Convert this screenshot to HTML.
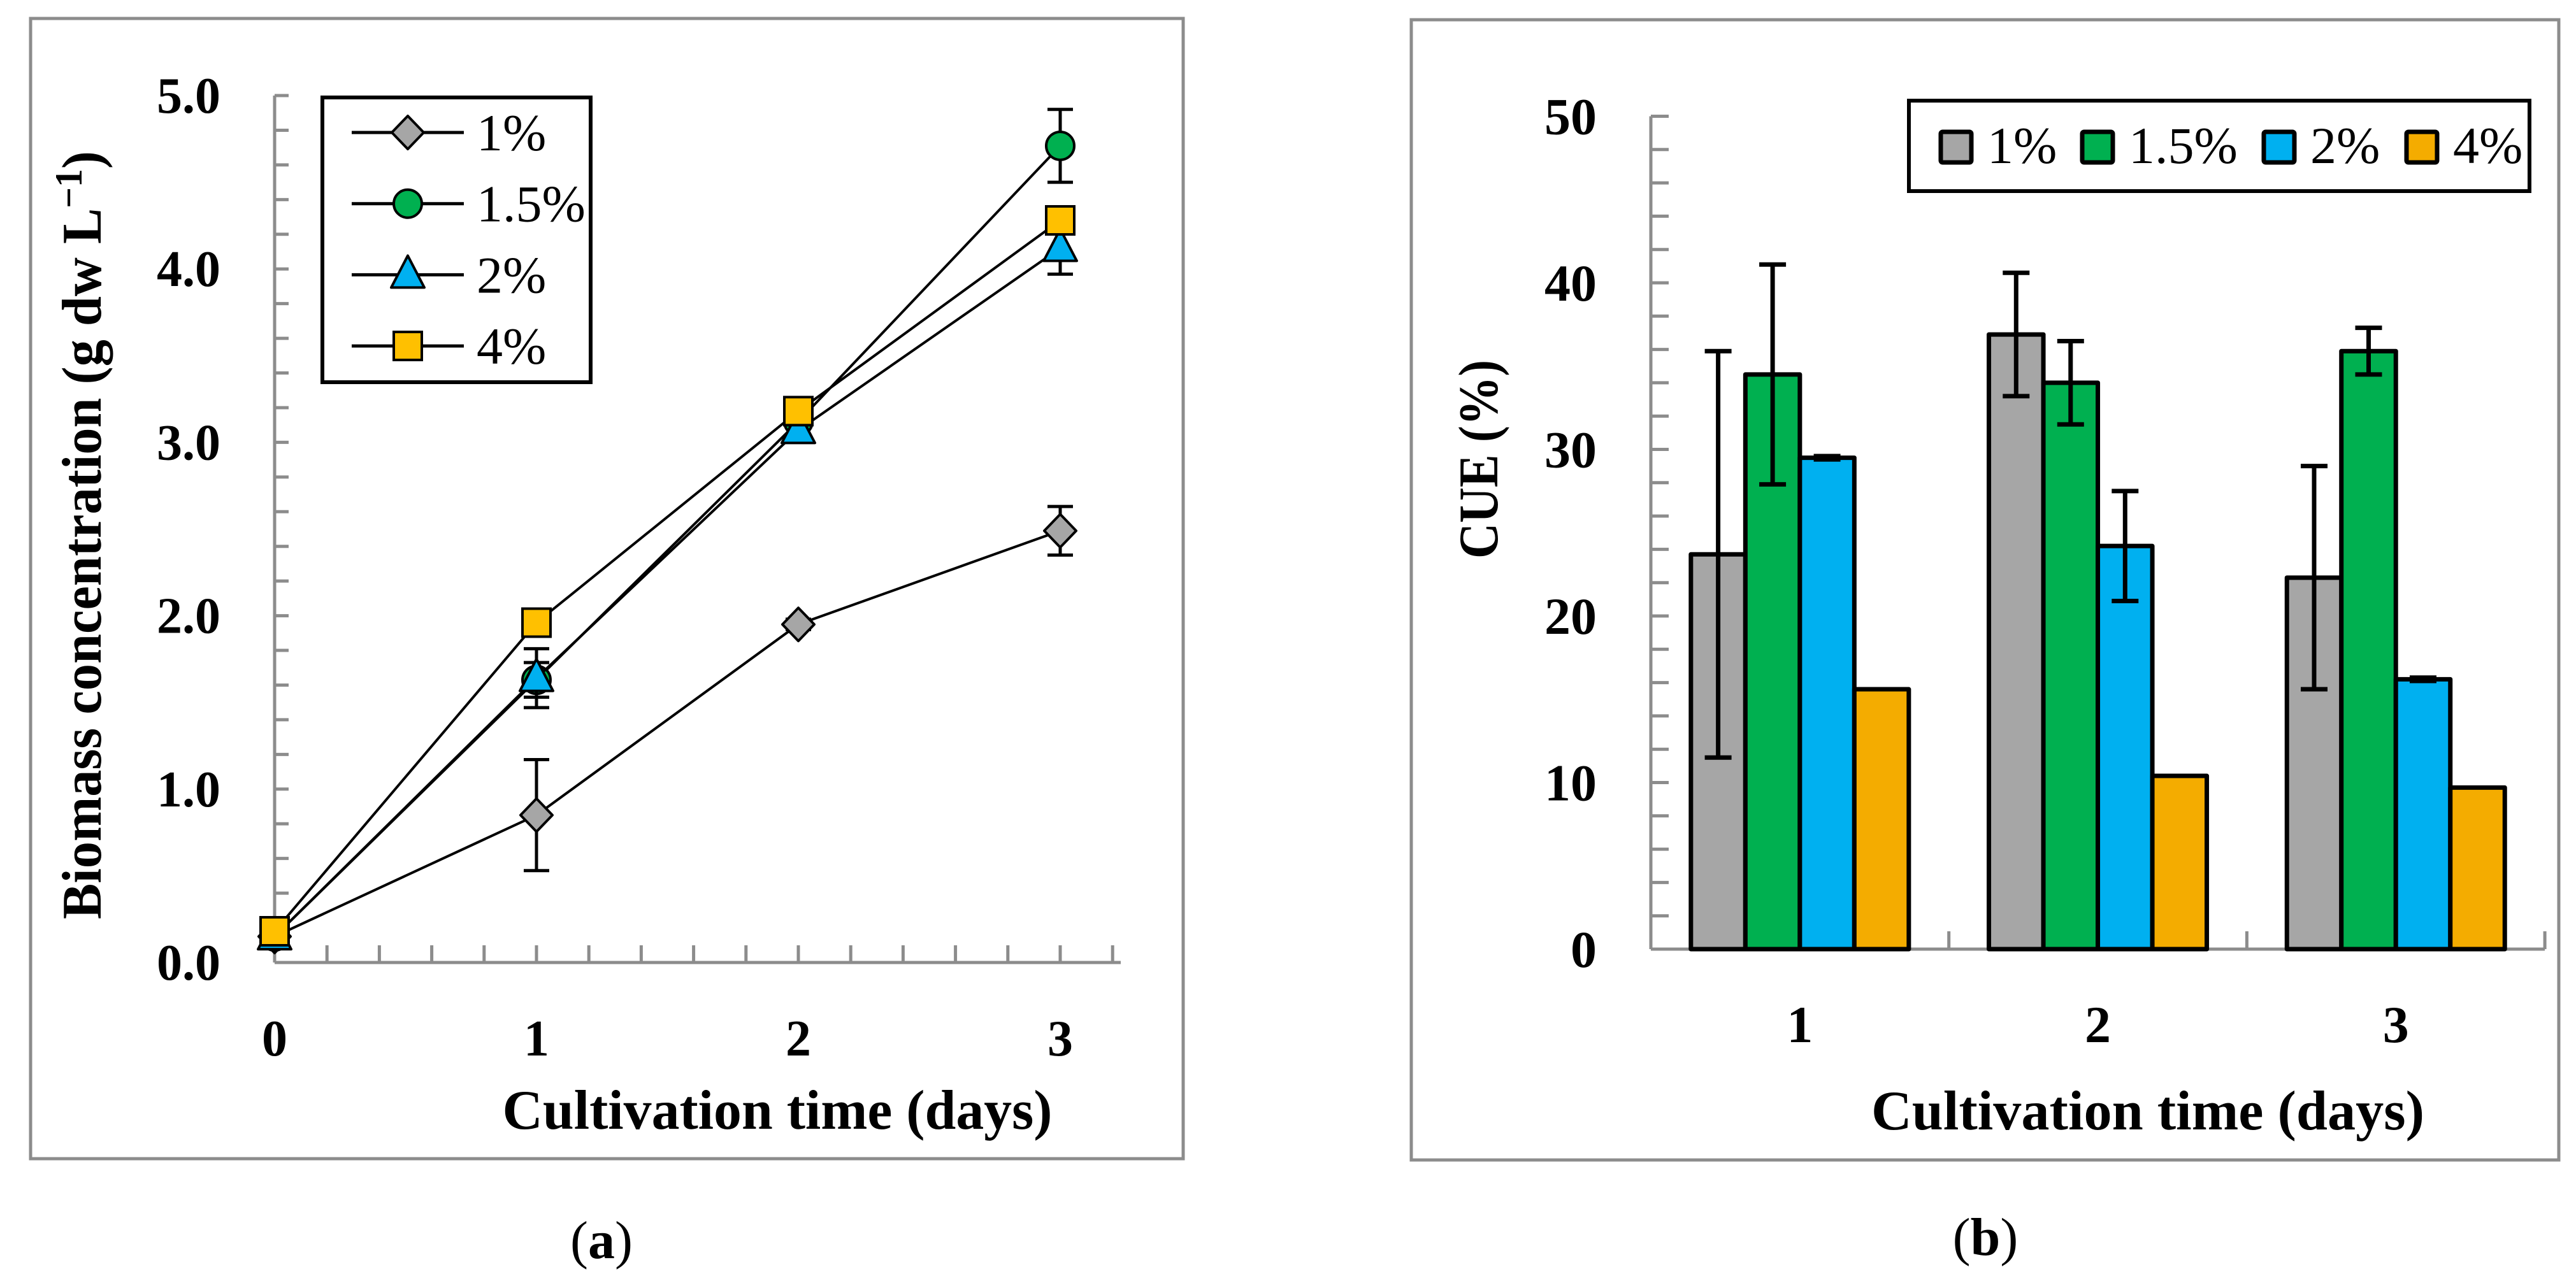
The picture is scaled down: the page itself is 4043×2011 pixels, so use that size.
<!DOCTYPE html>
<html><head><meta charset="utf-8"><style>
html,body{margin:0;padding:0;background:#fff}
svg{display:block}
text{font-family:"Liberation Serif",serif;fill:#000}
</style></head><body>
<svg id="fig" width="4043" height="2011" viewBox="0 0 4043 2011" xmlns="http://www.w3.org/2000/svg">
<g id="A"></g>
<g id="B"></g>
</svg>
<script>
// ---------- Panel (a) data ----------
const daysA = [0, 1, 2, 3];
const yTicksA = ["0.0","1.0","2.0","3.0","4.0","5.0"];
const seriesNamesA = ["1%", "1.5%", "2%", "4%"];
const s1 = [0.15, 0.85, 1.95, 2.49];
const s1Err = [0, 0.32, 0.03, 0.14];
const s15 = [0.15, 1.63, 3.12, 4.71];
const s15Err = [0, 0.1, 0.03, 0.21];
const s2 = [0.15, 1.64, 3.07, 4.12];
const s2Err = [0, 0.17, 0.03, 0.15];
const s4 = [0.18, 1.96, 3.18, 4.28];
const s4Err = [0, 0, 0, 0];
// ---------- Panel (b) data ----------
const catsB = ["1", "2", "3"];
const yTicksB = ["0","10","20","30","40","50"];
const seriesNamesB = ["1%", "1.5%", "2%", "4%"];
const b1 = [23.7, 36.9, 22.3];
const b1Err = [12.2, 3.7, 6.7];
const b15 = [34.5, 34.0, 35.9];
const b15Err = [6.6, 2.5, 1.4];
const b2 = [29.5, 24.2, 16.2];
const b2Err = [0.1, 3.3, 0.1];
const b4 = [15.6, 10.4, 9.7];
const b4Err = [0, 0, 0];

const NS = "http://www.w3.org/2000/svg";
function el(parent, tag, attrs, txt){
  const e = document.createElementNS(NS, tag);
  for (const k in attrs) e.setAttribute(k, attrs[k]);
  if (txt !== undefined) e.textContent = txt;
  parent.appendChild(e);
  return e;
}
const GRAY = "#8c8c8c";
const colors = ["#a6a6a6", "#00b050", "#00b0f0", "#ffc000"];
const barColors = ["#a6a6a6", "#00b050", "#00b0f0", "#f4ac00"];

// ================= Panel A =================
const A = document.getElementById("A");
const ax = d => 431 + d * 411;
const ay = v => 1511 - v * 272.2;
let r;
r = el(A, "rect", {x:48, y:29, width:1809, height:1790, fill:"none", stroke:GRAY, "stroke-width":5});


// y axis
r = el(A, "line", {x1:ax(0), y1:ay(5), x2:ax(0), y2:ay(0), stroke:GRAY, "stroke-width":5});


for (let i = 0; i <= 25; i++) {
  const t = el(A, "line", {x1:ax(0), y1:ay(i*0.2), x2:ax(0)+22, y2:ay(i*0.2), stroke:GRAY, "stroke-width":5});
  
  
}
yTicksA.forEach((lab, i) => {
  const t = el(A, "text", {x:346, y:ay(i)+27, "text-anchor":"end", "font-size":80, "font-weight":"bold"}, lab);
  
  
});
// x axis
r = el(A, "line", {x1:ax(0), y1:ay(0), x2:1759, y2:ay(0), stroke:GRAY, "stroke-width":5});


for (let i = 1; i <= 16; i++) {
  const xx = ax(i*0.2);
  if (xx > 1759) break;
  const t = el(A, "line", {x1:xx, y1:ay(0), x2:xx, y2:ay(0)-27, stroke:GRAY, "stroke-width":5});
  
  
}
daysA.forEach(d => {
  const t = el(A, "text", {x:ax(d), y:1657, "text-anchor":"middle", "font-size":80, "font-weight":"bold"}, String(d));
  
  
});
r = el(A, "text", {x:1220, y:1772, "text-anchor":"middle", "font-size":88, "font-weight":"bold", textLength:863, lengthAdjust:"spacingAndGlyphs"}, "Cultivation time (days)");


r = el(A, "text", {x:0, y:0, "text-anchor":"middle", "font-size":88, "font-weight":"bold", textLength:1206, lengthAdjust:"spacingAndGlyphs", transform:"translate(158,840) rotate(-90)"});


r.innerHTML = 'Biomass concentration (g dw L<tspan dy="-30" font-size="60">−1</tspan><tspan dy="30">)</tspan>';
r = el(A, "text", {x:944, y:1975, "text-anchor":"middle", "font-size":84}, "");
r.innerHTML = '(<tspan font-weight="bold">a</tspan>)';



function marker(g, kind, x, y, fill){
  let m;
  if (kind === 0) m = el(g, "polygon", {points:`${x},${y-26} ${x+25},${y} ${x},${y+26} ${x-25},${y}`, fill, stroke:"#000", "stroke-width":4, "stroke-linejoin":"round"});
  else if (kind === 1) m = el(g, "circle", {cx:x, cy:y, r:22, fill, stroke:"#000", "stroke-width":4});
  else if (kind === 2) m = el(g, "polygon", {points:`${x},${y-30} ${x+26},${y+20} ${x-26},${y+20}`, fill, stroke:"#000", "stroke-width":4, "stroke-linejoin":"round"});
  else m = el(g, "rect", {x:x-22, y:y-22, width:44, height:44, fill, stroke:"#000", "stroke-width":4});
  return m;
}
const seriesA = [s1, s15, s2, s4];
const errsA = [s1Err, s15Err, s2Err, s4Err];
const order = [0, 1, 2, 3];
order.forEach(si => {
  const g = el(A, "g", {});
  
  
  const vals = seriesA[si];
  el(g, "polyline", {points: vals.map((v, i) => ax(daysA[i]) + "," + ay(v)).join(" "), fill:"none", stroke:"#000", "stroke-width":4});
  vals.forEach((v, i) => {
    const e = errsA[si][i];
    if (e > 0) {
      const eb = el(g, "path", {d:`M${ax(daysA[i])},${ay(v-e)}V${ay(v+e)}M${ax(daysA[i])-20},${ay(v-e)}h40M${ax(daysA[i])-20},${ay(v+e)}h40`, stroke:"#000", "stroke-width":5, fill:"none"});
      
      
    }
  });
  vals.forEach((v, i) => {
    const m = marker(g, si, ax(daysA[i]), ay(v), colors[si]);
    
    
  });
});
// legend A
const LA = el(A, "g", {});


el(LA, "rect", {x:506, y:153, width:421, height:447, fill:"#fff", stroke:"#000", "stroke-width":6});
seriesNamesA.forEach((n, i) => {
  const y = 208 + i * 111.7;
  const g = el(LA, "g", {});
  
  
  el(g, "line", {x1:552, y1:y, x2:728, y2:y, stroke:"#000", "stroke-width":5});
  marker(g, i, 640, y, colors[i]);
  el(g, "text", {x:748, y:y+28, "font-size":82}, n);
});

// ================= Panel B =================
const B = document.getElementById("B");
const bx0 = 2591, catW = 467.7;
const by = v => 1490 - v * 26.15;
r = el(B, "rect", {x:2215, y:31, width:1801, height:1790, fill:"none", stroke:GRAY, "stroke-width":5});


r = el(B, "line", {x1:bx0, y1:by(50), x2:bx0, y2:by(0), stroke:GRAY, "stroke-width":5});


for (let i = 0; i <= 25; i++) {
  const t = el(B, "line", {x1:bx0, y1:by(i*2), x2:bx0+28, y2:by(i*2), stroke:GRAY, "stroke-width":5});
  
  
}
yTicksB.forEach((lab, i) => {
  const t = el(B, "text", {x:2506, y:by(i*10)+28, "text-anchor":"end", "font-size":82, "font-weight":"bold"}, lab);
  
  
});
r = el(B, "line", {x1:bx0, y1:by(0), x2:bx0+catW*catsB.length, y2:by(0), stroke:GRAY, "stroke-width":5});


for (let i = 1; i <= catsB.length; i++) {
  const t = el(B, "line", {x1:bx0+catW*i, y1:by(0), x2:bx0+catW*i, y2:by(0)-28, stroke:GRAY, "stroke-width":5});
  
  
}
catsB.forEach((c, i) => {
  const t = el(B, "text", {x:bx0+catW*(i+0.5), y:1636, "text-anchor":"middle", "font-size":82, "font-weight":"bold"}, c);
  
  
});
r = el(B, "text", {x:3371, y:1773, "text-anchor":"middle", "font-size":88, "font-weight":"bold", textLength:868, lengthAdjust:"spacingAndGlyphs"}, "Cultivation time (days)");


r = el(B, "text", {x:0, y:0, "text-anchor":"middle", "font-size":88, "font-weight":"bold", textLength:312, lengthAdjust:"spacingAndGlyphs", transform:"translate(2350,721) rotate(-90)"}, "CUE (%)");


r = el(B, "text", {x:3116, y:1970, "text-anchor":"middle", "font-size":84}, "");
r.innerHTML = '(<tspan font-weight="bold">b</tspan>)';



const seriesB = [b1, b15, b2, b4];
const errsB = [b1Err, b15Err, b2Err, b4Err];
const barW = 85.5;
seriesB.forEach((vals, si) => {
  const g = el(B, "g", {});
  
  
  vals.forEach((v, ci) => {
    const x = bx0 + catW*(ci+0.5) - 2*barW + si*barW;
    const b = el(g, "rect", {x:x, y:by(v), width:barW, height:by(0)-by(v), fill:barColors[si], stroke:"#000", "stroke-width":7, "stroke-linejoin":"round"});
    
    
  });
});
seriesB.forEach((vals, si) => {
  vals.forEach((v, ci) => {
    const e = errsB[si][ci];
    if (e <= 0) return;
    const cx = bx0 + catW*(ci+0.5) - 2*barW + (si+0.5)*barW;
    const eb = el(B, "path", {d:`M${cx},${by(v-e)}V${by(v+e)}M${cx-21},${by(v-e)}h42M${cx-21},${by(v+e)}h42`, stroke:"#000", "stroke-width":7, fill:"none"});
    
    
  });
});
// legend B
const LB = el(B, "g", {});


el(LB, "rect", {x:2996, y:158, width:974, height:142, fill:"#fff", stroke:"#000", "stroke-width":6});
const swX = [3043, 3265, 3550, 3774];
seriesNamesB.forEach((n, i) => {
  const g = el(LB, "g", {});
  
  
  el(g, "rect", {x:swX[i]+3, y:207, width:48, height:48, fill:barColors[i], stroke:"#000", "stroke-width":7, rx:3});
  el(g, "text", {x:swX[i]+76, y:256, "font-size":82}, n);
});
</script>
</body></html>
